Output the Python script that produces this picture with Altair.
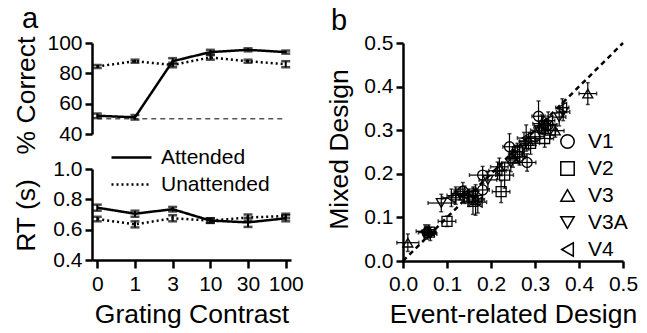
import altair as alt
import pandas as pd

# ---- panel a data ----
contrast = ["0", "1", "3", "10", "30", "100"]
conditions = ["Attended", "Unattended"]
att_pc = [52, 51, 88, 94, 95.5, 94]
att_pc_err = [1.5, 1.5, 2, 1.5, 1, 1]
un_pc = [84.5, 88, 85.5, 90.5, 88, 86]
un_pc_err = [1, 1, 1.5, 1.5, 1, 2]
att_rt = [0.745, 0.705, 0.735, 0.66, 0.648, 0.675]
att_rt_err = [0.02, 0.02, 0.015, 0.015, 0.03, 0.02]
un_rt = [0.67, 0.635, 0.675, 0.66, 0.68, 0.69]
un_rt_err = [0.015, 0.02, 0.02, 0.015, 0.02, 0.015]
chance_level = 50

# ---- panel b data ----
areas = ["V1", "V2", "V3", "V3A", "V4"]
shapes = ["circle", "square", "triangle-up", "triangle-down", "triangle-left"]
ev = {
    "V1": [0.055, 0.136, 0.181, 0.181, 0.242, 0.282, 0.308, 0.300, 0.265, 0.330],
    "V2": [0.060, 0.100, 0.159, 0.223, 0.231, 0.322, 0.260, 0.290, 0.150, 0.335],
    "V3": [0.011, 0.219, 0.346, 0.420, 0.120, 0.165, 0.250, 0.285, 0.315, 0.058],
    "V3A": [0.087, 0.193, 0.364, 0.130, 0.160, 0.245, 0.275, 0.310, 0.062, 0.355],
    "V4": [0.140, 0.170, 0.215, 0.255, 0.280, 0.318, 0.330, 0.050, 0.110, 0.362],
}
mx = {
    "V1": [0.065, 0.160, 0.163, 0.197, 0.262, 0.226, 0.332, 0.285, 0.240, 0.312],
    "V2": [0.066, 0.091, 0.137, 0.159, 0.197, 0.281, 0.250, 0.270, 0.145, 0.300],
    "V3": [0.042, 0.216, 0.299, 0.384, 0.150, 0.140, 0.235, 0.275, 0.315, 0.068],
    "V3A": [0.133, 0.186, 0.342, 0.155, 0.150, 0.225, 0.265, 0.300, 0.062, 0.330],
    "V4": [0.152, 0.135, 0.207, 0.245, 0.282, 0.310, 0.322, 0.068, 0.145, 0.352],
}
ev_err = {
    "V1": [0.02, 0.02, 0.015, 0.03, 0.015, 0.02, 0.015, 0.02, 0.015, 0.02],
    "V2": [0.015, 0.02, 0.02, 0.02, 0.02, 0.02, 0.015, 0.02, 0.02, 0.015],
    "V3": [0.025, 0.02, 0.02, 0.02, 0.02, 0.02, 0.015, 0.02, 0.02, 0.015],
    "V3A": [0.03, 0.02, 0.015, 0.02, 0.02, 0.02, 0.015, 0.02, 0.015, 0.015],
    "V4": [0.02, 0.02, 0.02, 0.015, 0.02, 0.02, 0.015, 0.02, 0.02, 0.015],
}
mx_err = {
    "V1": [0.015, 0.02, 0.02, 0.02, 0.03, 0.02, 0.035, 0.02, 0.02, 0.02],
    "V2": [0.01, 0.012, 0.03, 0.025, 0.03, 0.02, 0.02, 0.025, 0.02, 0.02],
    "V3": [0.02, 0.02, 0.015, 0.025, 0.02, 0.035, 0.02, 0.02, 0.02, 0.015],
    "V3A": [0.02, 0.02, 0.02, 0.015, 0.02, 0.02, 0.03, 0.02, 0.015, 0.02],
    "V4": [0.02, 0.025, 0.02, 0.02, 0.03, 0.02, 0.02, 0.015, 0.02, 0.02],
}
unity = [0.0, 0.5]
panel_labels = ["a", "b"]

FONT = "Liberation Sans"
TICK_FS = 21
TITLE_FS = 26.5

# ---- tables ----
rows = []
for cond, pc, pce, rt, rte in [
    ("Attended", att_pc, att_pc_err, att_rt, att_rt_err),
    ("Unattended", un_pc, un_pc_err, un_rt, un_rt_err),
]:
    for i, c in enumerate(contrast):
        rows.append(dict(cond=cond, contrast=c, pc=pc[i], pc_lo=pc[i] - pce[i], pc_hi=pc[i] + pce[i],
                         rt=rt[i], rt_lo=rt[i] - rte[i], rt_hi=rt[i] + rte[i]))
beh = pd.DataFrame(rows)
chance = pd.DataFrame({"contrast": [contrast[0], contrast[-1]], "pc": [chance_level, chance_level]})

srows = []
for a in areas:
    for x, y, xe, ye in zip(ev[a], mx[a], ev_err[a], mx_err[a]):
        srows.append(dict(area=a, ev=x, mx=y, ev_lo=x - xe, ev_hi=x + xe, mx_lo=y - ye, mx_hi=y + ye))
sc = pd.DataFrame(srows)
diag = pd.DataFrame({"ev": unity, "mx": unity})

W_L, H_L = 199, 91
W_R, H_R = 220, 218


def panel_label(text, dx, dy):
    return alt.Chart(pd.DataFrame({"label": [text]})).mark_text(
        font=FONT, fontSize=29, align="left", baseline="alphabetic", color="black"
    ).encode(text="label:N", x=alt.value(dx), y=alt.value(dy))


xs = alt.Scale(type="point", domain=contrast, padding=0.14)
dash = alt.StrokeDash(
    "cond:N",
    scale=alt.Scale(domain=conditions, range=[[1, 0], [2, 3]]),
    legend=alt.Legend(
        title=None, orient="none", legendX=28, legendY=103, symbolType="M-2,0H2",
        symbolSize=400, symbolStrokeWidth=2.5, symbolStrokeColor="black",
        labelFontSize=21, labelFont=FONT, labelColor="black", rowPadding=5, labelOffset=18,
    ),
)


def left_panel(field, lo, hi, domain, values, title, fmt, show_x, title_y, label=None):
    ax = alt.Axis(values=values, format=fmt, title=title, titleX=-52, titleY=title_y,
                  labelOverlap=False, labelFlush=False, tickCount=len(values))
    sc_y = alt.Scale(domain=domain, nice=False, zero=False)
    y = alt.Y(f"{field}:Q", scale=sc_y, axis=ax)
    ylo = alt.Y(f"{lo}:Q", scale=sc_y, axis=ax)
    yhi = alt.Y(f"{hi}:Q", scale=sc_y, axis=ax)
    xaxis = alt.Axis(title="Grating Contrast", labelAngle=0, titleY=62, titleBaseline="alphabetic",
                     tickSize=8) if show_x else None
    x = alt.X("contrast:O", sort=contrast, scale=xs, axis=xaxis)
    base = alt.Chart(beh)
    line = base.mark_line(color="black", strokeWidth=2.5).encode(x=x, y=y, strokeDash=dash, detail="cond:N")
    rule = base.mark_rule(color="black", strokeWidth=2).encode(x=x, y=ylo, y2=alt.Y2(f"{hi}:Q"))
    cap1 = base.mark_tick(orient="horizontal", color="black", size=9, thickness=2.5).encode(x=x, y=ylo)
    cap2 = base.mark_tick(orient="horizontal", color="black", size=9, thickness=2.5).encode(x=x, y=yhi)
    layers = [line, rule, cap1, cap2]
    if field == "pc":
        ch = alt.Chart(chance).mark_line(color="black", strokeWidth=1, strokeDash=[5, 4]).encode(x=x, y=y)
        layers = [ch] + layers
    if label is not None:
        layers.append(label)
    return alt.layer(*layers).properties(width=W_L, height=H_L)


top = left_panel("pc", "pc_lo", "pc_hi", [40, 100], [40, 60, 80, 100], "% Correct", "d", False, 52,
                 panel_label(panel_labels[0], -70, -15))
bottom = left_panel("rt", "rt_lo", "rt_hi", [0.4, 1.0], [0.4, 0.6, 0.8, 1.0], "RT (s)", ".1f", True, 46)

left = alt.vconcat(top, bottom, spacing=35, bounds="flush")

# ---- panel b ----
ticks_b = [0, 0.1, 0.2, 0.3, 0.4, 0.5]
sxs = alt.Scale(domain=[0, 0.5], nice=False)
axx = alt.Axis(values=ticks_b, format=".1f", title="Event-related Design", titleY=61,
               titleBaseline="alphabetic", labelOverlap=False, labelFlush=False)
axy = alt.Axis(values=ticks_b, format=".1f", title="Mixed Design", titleX=-50, titleY=106,
               labelOverlap=False, labelFlush=False)
sx = alt.X("ev:Q", scale=sxs, axis=axx)
sy = alt.Y("mx:Q", scale=sxs, axis=axy)
sbase = alt.Chart(sc)
d_line = alt.Chart(diag).mark_line(color="black", strokeWidth=2.5, strokeDash=[5, 4]).encode(x=sx, y=sy)
hbar = sbase.mark_rule(color="black", strokeWidth=1.2).encode(x=alt.X("ev_lo:Q", axis=axx), x2="ev_hi:Q", y=sy)
vbar = sbase.mark_rule(color="black", strokeWidth=1.2).encode(x=sx, y=alt.Y("mx_lo:Q", axis=axy), y2="mx_hi:Q")
hc1 = sbase.mark_tick(orient="vertical", color="black", size=4, thickness=1.5).encode(
    x=alt.X("ev_lo:Q", axis=axx), y=sy)
hc2 = sbase.mark_tick(orient="vertical", color="black", size=4, thickness=1.5).encode(
    x=alt.X("ev_hi:Q", axis=axx), y=sy)
vc1 = sbase.mark_tick(orient="horizontal", color="black", size=4, thickness=1.5).encode(
    x=sx, y=alt.Y("mx_lo:Q", axis=axy))
vc2 = sbase.mark_tick(orient="horizontal", color="black", size=4, thickness=1.5).encode(
    x=sx, y=alt.Y("mx_hi:Q", axis=axy))
pts = sbase.mark_point(filled=False, size=100, strokeWidth=1.3, color="black", opacity=1).encode(
    x=sx, y=sy,
    shape=alt.Shape("area:N", scale=alt.Scale(domain=areas, range=shapes),
                    legend=alt.Legend(title=None, orient="none", legendX=465, legendY=88,
                                      symbolSize=180, symbolStrokeWidth=1.5, symbolStrokeColor="black",
                                      symbolFillColor="transparent", labelFontSize=21, labelFont=FONT,
                                      labelColor="black", rowPadding=5, labelOffset=10)),
)
right = alt.layer(d_line, hbar, vbar, hc1, hc2, vc1, vc2, pts,
                  panel_label(panel_labels[1], -72, -13)).properties(width=W_R, height=H_R)

chart = alt.hconcat(left, right, spacing=21).properties(
    padding={"left": 5, "top": -3, "right": 0, "bottom": 0}
).configure_view(stroke=None).configure_axis(
    labelFont=FONT, titleFont=FONT, labelFontSize=TICK_FS, titleFontSize=TITLE_FS, titleFontWeight="normal",
    labelColor="black", titleColor="black", domainColor="black", tickColor="black",
    domainWidth=2.5, tickWidth=2.5, tickSize=7, grid=False, labelPadding=3, labelOverlap=False,
).configure_axisX(labelPadding=5)

chart.save("out.html", embed_options={"renderer": "svg", "actions": False})
